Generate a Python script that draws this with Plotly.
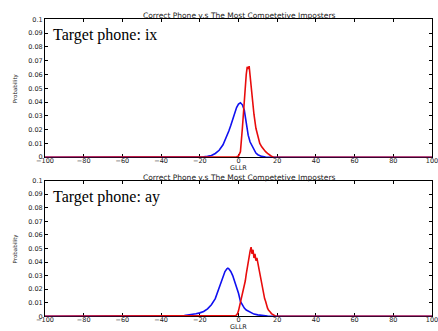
import plotly.graph_objects as go

# ---- data ----
title_text = "Correct Phone v.s The Most Competetive Imposters"
x_ticks = [-100, -80, -60, -40, -20, 0, 20, 40, 60, 80, 100]
y_ticks = [0, 0.01, 0.02, 0.03, 0.04, 0.05, 0.06, 0.07, 0.08, 0.09, 0.1]
y_tick_text = ["0", "0.01", "0.02", "0.03", "0.04", "0.05", "0.06", "0.07", "0.08", "0.09", "0.1"]

# Top panel: target phone ix
ix_correct_x = [-100, -25, -20, -18, -16, -14, -12, -10, -8, -6, -5, -4, -3, -2, -1, 0, 1, 2, 3, 4, 5, 6, 7, 8, 9, 10, 12, 14, 16, 100]
ix_correct_y = [0, 0, 0.0001, 0.0003, 0.0006, 0.0013, 0.0027, 0.005, 0.009, 0.015, 0.019, 0.023, 0.028, 0.032, 0.036, 0.0385, 0.0395, 0.038, 0.034, 0.025, 0.016, 0.011, 0.008, 0.005, 0.003, 0.0018, 0.0006, 0.0002, 0, 0]
ix_impost_x = [-100, -2, -1, 0, 1, 2, 3, 4, 4.5, 5, 5.5, 6, 7, 8, 9, 10, 11, 12, 13, 14, 15, 16, 17, 18, 100]
ix_impost_y = [0, 0, 0.0003, 0.0008, 0.004, 0.021, 0.044, 0.060, 0.0655, 0.064, 0.066, 0.058, 0.045, 0.031, 0.021, 0.0145, 0.010, 0.0075, 0.0055, 0.004, 0.0028, 0.0016, 0.0007, 0.0002, 0]

# Bottom panel: target phone ay
ay_correct_x = [-100, -40, -35, -30, -28, -26, -24, -22, -20, -18, -16, -14, -12, -10, -8, -7, -6, -5.5, -5, -4, -3, -2, -1, 0, 1, 2, 3, 4, 6, 8, 10, 12, 15, 20, 100]
ay_correct_y = [0, 0, 0.0002, 0.0004, 0.0006, 0.0009, 0.0013, 0.0018, 0.0025, 0.0035, 0.0055, 0.0085, 0.013, 0.021, 0.029, 0.033, 0.035, 0.0355, 0.035, 0.033, 0.030, 0.026, 0.022, 0.017, 0.011, 0.008, 0.006, 0.0046, 0.0028, 0.0016, 0.001, 0.0006, 0.0002, 0, 0]
ay_impost_x = [-100, -2, -1.5, -1, -0.5, 0, 0.5, 1, 1.5, 2, 2.5, 3, 3.5, 4, 4.5, 5, 5.5, 6, 6.5, 7, 7.5, 8, 8.5, 9, 9.5, 10, 10.5, 11, 11.5, 12, 12.5, 13, 13.5, 14, 14.5, 15, 15.5, 16, 16.5, 17, 17.5, 18, 18.5, 19, 20, 100]
ay_impost_y = [0, 0.0003, 0.0005, 0.001, 0.002, 0.004, 0.007, 0.009, 0.012, 0.015, 0.019, 0.022, 0.026, 0.031, 0.036, 0.041, 0.045, 0.048, 0.051, 0.046, 0.049, 0.043, 0.046, 0.041, 0.043, 0.039, 0.034, 0.030, 0.026, 0.022, 0.019, 0.016, 0.013, 0.011, 0.008, 0.006, 0.0045, 0.004, 0.003, 0.002, 0.0015, 0.001, 0.0005, 0.0002, 0, 0]

panel_labels = ["Target phone: ix", "Target phone: ay"]

# ---- figure ----
W, H = 438, 331
fig = go.Figure()

blue = "#1010f0"
red = "#e80c0c"

panels = [
    (ix_correct_x, ix_correct_y, ix_impost_x, ix_impost_y, "x", "y"),
    (ay_correct_x, ay_correct_y, ay_impost_x, ay_impost_y, "x2", "y2"),
]
for cx, cy, ix, iy, xa, ya in panels:
    fig.add_trace(go.Scatter(x=cx, y=cy, mode="lines", line=dict(color=blue, width=1.6),
                             xaxis=xa, yaxis=ya, showlegend=False))
    fig.add_trace(go.Scatter(x=ix, y=iy, mode="lines", line=dict(color=red, width=1.6),
                             xaxis=xa, yaxis=ya, showlegend=False))

def pix2paper(py):
    return 1 - py / H

top_dom = [pix2paper(157), pix2paper(15.7)]
bot_dom = [pix2paper(320), pix2paper(181)]

sans = "DejaVu Sans, Arial, sans-serif"
tickfont = dict(family=sans, size=6.5, color="#222")
axis_common = dict(showgrid=False, zeroline=False, showline=True, linecolor="black", linewidth=1,
                   mirror="ticks", ticks="inside", ticklen=3, tickcolor="black",
                   tickfont=tickfont, layer="below traces", ticklabeloverflow="allow")

fig.update_layout(
    width=W, height=H,
    margin=dict(l=45, r=5, t=0, b=0),
    paper_bgcolor="white", plot_bgcolor="white",
    xaxis=dict(domain=[0, 1], range=[-100, 100], tickvals=x_ticks, anchor="y",
               ticklabelstandoff=-3, **axis_common),
    yaxis=dict(domain=top_dom, range=[0, 0.1], tickvals=y_ticks, ticktext=y_tick_text, anchor="x", **axis_common),
    xaxis2=dict(domain=[0, 1], range=[-100, 100], tickvals=x_ticks, anchor="y2",
                ticklabelstandoff=-3, **axis_common),
    yaxis2=dict(domain=bot_dom, range=[0, 0.1], tickvals=y_ticks, ticktext=y_tick_text, anchor="x2", **axis_common),
)

ann = []
for dom, label in [(top_dom, panel_labels[0]), (bot_dom, panel_labels[1])]:
    # title
    ann.append(dict(text=title_text, xref="paper", yref="paper", x=0.5, y=dom[1], yshift=-2,
                    xanchor="center", yanchor="bottom", showarrow=False, borderpad=0,
                    font=dict(family=sans, size=7.5, color="#222")))
    # x axis title
    ann.append(dict(text="GLLR", xref="paper", yref="paper", x=0.5, y=dom[0], yshift=-6,
                    xanchor="center", yanchor="top", showarrow=False, borderpad=0,
                    font=dict(family=sans, size=6.5, color="#222")))
    # y axis title
    ann.append(dict(text="Probability", xref="paper", yref="paper", x=0, xshift=-30,
                    y=(dom[0] + dom[1]) / 2, textangle=-90, xanchor="center", yanchor="middle",
                    showarrow=False, font=dict(family=sans, size=5.5, color="#222")))
    # panel label
    ann.append(dict(text=label, xref="paper", yref="paper", x=0, xshift=6, y=dom[1], yshift=-5,
                    xanchor="left", yanchor="top", showarrow=False,
                    font=dict(family="Times New Roman, Liberation Serif, DejaVu Serif, serif",
                              size=16, color="black")))
fig.update_layout(annotations=ann)

fig.write_html("out.html")
